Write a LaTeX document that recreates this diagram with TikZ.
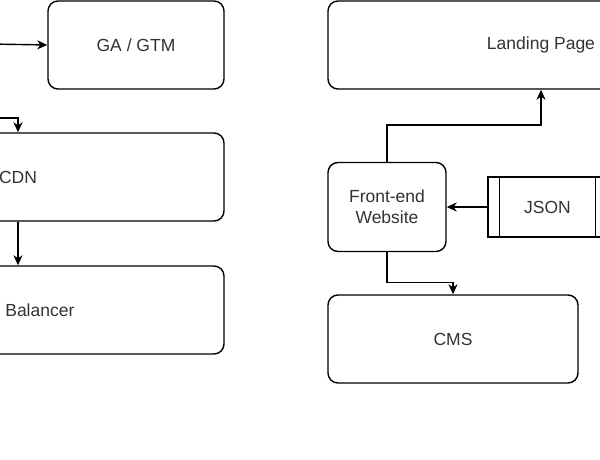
\documentclass[tikz,border=0pt]{standalone}
\usepackage{fontspec}
\setmainfont{Liberation Sans}
\usetikzlibrary{arrows.meta}
\definecolor{txt}{HTML}{333333}
\tikzset{
  box/.style={draw=black, line width=1.4pt, rounded corners=10pt, inner sep=0pt,
    font=\fontsize{17.5}{21}\selectfont, text=txt, align=center},
  procbox/.style={draw=black, line width=1.4pt, inner sep=0pt,
    font=\fontsize{17.5}{21}\selectfont, text=txt, align=center},
  arr/.style={draw=black, line width=1.4pt, -{Stealth[length=10pt,width=9pt,inset=3pt]}}
}
\begin{document}
\begin{tikzpicture}[x=1pt,y=-1pt]
\useasboundingbox (0,0) rectangle (600,460);
\fill[white] (0,0) rectangle (600,460);
\clip (0,0) rectangle (600,460);
\node[box, minimum width=176pt, minimum height=88pt] (ga) at (136,45) {GA / GTM};
\node[box, minimum width=412pt, minimum height=88pt] (cdn) at (18,177) {CDN};
\node[box, minimum width=412pt, minimum height=88pt] (lb) at (18,310) {Load Balancer};
\node[box, minimum width=426pt, minimum height=88pt] (lp) at (541,45) {Landing Page};
\node[box, minimum width=118pt, minimum height=89pt] (fe) at (387,207) {Front-end\\Website};
\node[procbox, minimum width=119pt, minimum height=60pt] (json) at (547.5,207) {JSON};
\draw[line width=1.4pt] ([xshift=12pt]json.north west) -- ([xshift=12pt]json.south west);
\draw[line width=1.4pt] ([xshift=-12pt]json.north east) -- ([xshift=-12pt]json.south east);
\node[box, minimum width=250pt, minimum height=88pt] (cms) at (453,339) {CMS};
\coordinate (inga) at (-10,44);
\coordinate (incdn) at (-10,118);
\draw[arr] (inga) -- (ga.west);
\draw[arr] (incdn) -| (cdn.north);
\draw[arr] (cdn.south) -- (lb.north);
\draw[arr] (fe.north) -- ++(0,-37) -| (lp.south);
\draw[arr] (json.west) -- (fe.east);
\draw[arr] (fe.south) -- ++(0,30) -| (cms.north);
\end{tikzpicture}
\end{document}
